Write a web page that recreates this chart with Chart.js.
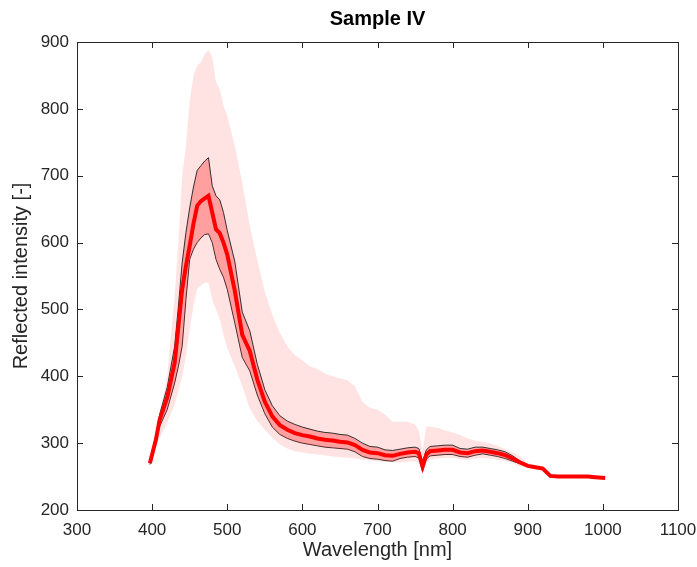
<!DOCTYPE html>
<html lang="en">
<head>
    <meta charset="UTF-8">
    <title>Sample IV</title>
    <script src="https://cdn.jsdelivr.net/npm/chart.js"></script>
    <style>
        body { margin: 0; padding: 0; background: #ffffff; }
        #wrap { width: 697px; height: 567px; }
    </style>
</head>
<body>
    <div id="wrap"><canvas id="chart" width="697" height="567"></canvas></div>
    <script>
        // wavelength grid [nm]
        const wavelengths = [397,405,410,420,430,435,440,445,450,455,460,465,470,475,480,485,490,495,500,510,520,530,540,550,560,570,580,590,600,610,620,630,640,650,660,670,680,690,700,710,720,730,740,750,755,760,765,770,780,790,800,810,820,830,840,850,860,870,880,890,900,910,920,930,940,950,960,970,980,990,1003];

        // mean reflected intensity
        const meanVals = [270,305,335,368,420,475,530,565,595,628,655,662,666,670,645,620,614,600,582,528,462,438,395,362,340,327,320,315,312,310,307,305,304,302,301,297,290,286,285,282,281,284,286,287,285,265,283,288,289,290,290,286,285,288,289,287,285,282,277,271,266,264,262,251,250,250,250,250,250,249,248];

        // mean +/- std (dark band)
        const stdUpper = [272,310,343,383,445,505,570,615,652,683,708,715,722,727,685,670,664,645,618,572,496,468,418,380,356,341,333,328,324,321,318,316,315,313,312,307,300,295,294,290,289,291,293,294,292,272,290,295,296,297,297,292,291,294,294,292,290,287,281,273,267,265,263,252,251,251,251,251,251,250,249];
        const stdLower = [268,300,325,350,390,415,445,515,575,590,600,607,612,613,600,575,560,548,530,480,428,408,372,344,324,313,307,303,300,298,296,294,293,292,291,287,280,277,276,274,273,277,279,280,278,258,276,281,282,283,283,280,279,282,284,282,280,277,273,269,265,263,261,250,249,249,249,249,249,248,247];

        // min / max envelope (light band)
        const maxVals = [272,318,345,400,520,600,700,745,812,850,865,870,882,888,878,840,830,805,790,745,690,625,574,527,492,465,445,432,424,415,411,404,400,397,394,385,362,353,350,343,332,332,332,328,318,288,325,325,323,319,316,312,307,304,302,300,296,291,286,280,270,267,265,253,252,252,252,252,252,251,250];
        const minVals = [268,295,308,330,358,378,400,430,470,505,530,536,540,540,515,500,485,462,442,415,385,352,333,320,308,298,292,288,286,284,283,282,280,279,278,277,275,274,273,272,271,271,272,273,270,255,270,275,277,278,278,276,275,277,278,277,275,273,270,265,264,262,260,249,248,248,248,248,248,247,246];

        const xTicks = [300,400,500,600,700,800,900,1000,1100];
        const yTicks = [200,300,400,500,600,700,800,900];
        const titleText = 'Sample IV';

        const pts = vals => vals.map((v, i) => ({ x: wavelengths[i], y: v }));
        const font = 'Liberation Sans, Arial, Helvetica, sans-serif';
        const axisColor = '#262626';

        // MATLAB style box with inward ticks on all four sides, title over the axes
        const boxPlugin = {
            id: 'box',
            afterDraw(chart) {
                const { ctx, chartArea: a, scales } = chart;
                const len = 6;
                ctx.save();
                ctx.strokeStyle = axisColor;
                ctx.lineWidth = 1;
                ctx.beginPath();
                xTicks.forEach(t => {
                    const px = Math.round(scales.x.getPixelForValue(t)) + 0.5;
                    ctx.moveTo(px, a.bottom); ctx.lineTo(px, a.bottom - len);
                    ctx.moveTo(px, a.top); ctx.lineTo(px, a.top + len);
                });
                yTicks.forEach(t => {
                    const py = Math.round(scales.y.getPixelForValue(t)) + 0.5;
                    ctx.moveTo(a.left, py); ctx.lineTo(a.left + len, py);
                    ctx.moveTo(a.right, py); ctx.lineTo(a.right - len, py);
                });
                ctx.stroke();
                ctx.strokeRect(Math.round(a.left) + 0.5, Math.round(a.top) + 0.5,
                    Math.round(a.right - a.left), Math.round(a.bottom - a.top));

                ctx.fillStyle = '#000000';
                ctx.font = 'bold 20px ' + font;
                ctx.textAlign = 'center';
                ctx.textBaseline = 'middle';
                ctx.fillText(titleText, (a.left + a.right) / 2, 19);
                ctx.restore();
            }
        };

        new Chart(document.getElementById('chart'), {
            type: 'line',
            data: {
                datasets: [
                    {   // mean, drawn on top
                        data: pts(meanVals),
                        borderColor: '#ff0000',
                        borderWidth: 4,
                        fill: false
                    },
                    {
                        data: pts(stdUpper),
                        borderColor: 'rgba(30,30,30,0.9)',
                        borderWidth: 1,
                        fill: '+1',
                        backgroundColor: 'rgba(255,0,0,0.3)'
                    },
                    {
                        data: pts(stdLower),
                        borderColor: 'rgba(30,30,30,0.9)',
                        borderWidth: 1,
                        fill: false
                    },
                    {
                        data: pts(maxVals),
                        borderWidth: 0,
                        borderColor: 'rgba(0,0,0,0)',
                        fill: '+1',
                        backgroundColor: 'rgba(255,0,0,0.11)'
                    },
                    {
                        data: pts(minVals),
                        borderWidth: 0,
                        borderColor: 'rgba(0,0,0,0)',
                        fill: false
                    }
                ]
            },
            options: {
                responsive: false,
                animation: false,
                elements: { point: { radius: 0 }, line: { tension: 0 } },
                layout: { padding: { left: 0, right: 19, top: 42, bottom: 0 } },
                plugins: {
                    legend: { display: false },
                    tooltip: { enabled: false },
                    title: { display: false }
                },
                scales: {
                    x: {
                        type: 'linear',
                        min: 300,
                        max: 1100,
                        grid: { display: false, drawTicks: false },
                        border: { display: false },
                        afterBuildTicks: s => { s.ticks = xTicks.map(v => ({ value: v })); },
                        afterFit: s => { s.height = 57; s.paddingLeft = 0; s.paddingRight = 0; },
                        ticks: {
                            color: axisColor,
                            padding: 10,
                            maxRotation: 0,
                            font: { family: font, size: 17 },
                            callback: v => String(v)
                        },
                        title: {
                            display: true,
                            text: 'Wavelength [nm]',
                            color: axisColor,
                            font: { family: font, size: 20 },
                            padding: { top: 0, bottom: 5 }
                        }
                    },
                    y: {
                        min: 200,
                        max: 900,
                        grid: { display: false, drawTicks: false },
                        border: { display: false },
                        afterBuildTicks: s => { s.ticks = yTicks.map(v => ({ value: v })); },
                        afterFit: s => { s.width = 77; s.paddingTop = 0; s.paddingBottom = 0; },
                        ticks: {
                            color: axisColor,
                            padding: 8,
                            font: { family: font, size: 17 },
                            callback: v => String(v)
                        },
                        title: {
                            display: true,
                            text: 'Reflected intensity [-]',
                            color: axisColor,
                            font: { family: font, size: 20 },
                            padding: { top: 9, bottom: 0 }
                        }
                    }
                }
            },
            plugins: [boxPlugin]
        });
    </script>
</body>
</html>
